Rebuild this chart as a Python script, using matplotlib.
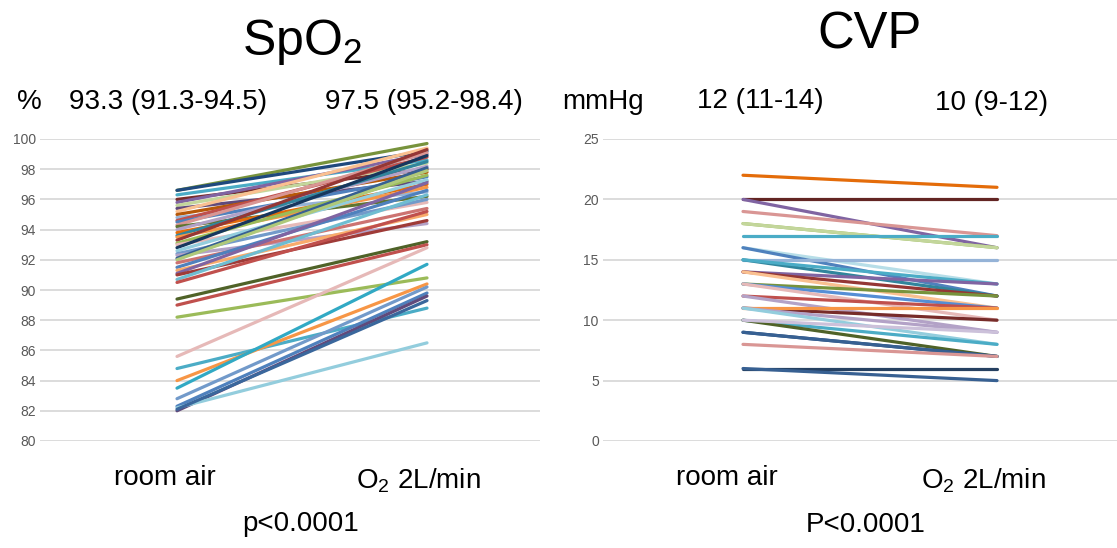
import matplotlib.pyplot as plt

plt.rcParams['font.family'] = ['Liberation Sans', 'DejaVu Sans']

# SpO2 (%) per patient: room air -> O2 2L/min
spo2_room = [96.6, 96.6, 96.3, 96.0, 95.8, 95.6, 95.4, 95.2, 95.0, 94.8, 94.6, 94.5,
             94.3, 94.2, 94.0, 93.8, 93.6, 93.5, 93.3, 93.1, 93.0, 92.8, 92.6, 92.4,
             92.3, 92.1, 92.0, 91.8, 91.5, 91.3, 91.1, 91.0, 90.7, 90.5, 89.4, 89.0,
             88.2, 85.6, 84.8, 84.0, 83.5, 82.8, 82.3, 82.0, 82.2, 82.1]
spo2_o2 = [99.7, 99.2, 98.6, 98.0, 99.0, 98.4, 97.2, 99.4, 97.8, 96.5, 98.8, 97.5,
           99.1, 96.2, 98.2, 97.0, 98.5, 96.8, 99.3, 97.6, 95.8, 98.9, 97.3, 96.0,
           94.4, 98.1, 97.9, 95.4, 96.6, 95.0, 97.1, 94.6, 96.3, 95.2, 93.2, 93.0,
           90.8, 92.8, 88.8, 90.4, 91.7, 90.2, 89.8, 89.6, 86.5, 89.3]
spo2_colors = ['#77933C', '#1F497D', '#4BACC6', '#772C2A', '#8064A2', '#C3D69B',
               '#604A7B', '#FAC090', '#B65708', '#95B3D7', '#C0504D', '#4F81BD',
               '#D99694', '#5F7530', '#B2A1C7', '#E46C0A', '#31859C', '#F79646',
               '#953735', '#9BBB59', '#E6B9B8', '#17375E', '#93CDDD', '#729ACA',
               '#B3A2C7', '#376092', '#AFC97A', '#CD7371', '#4F81BD', '#F9AB6B',
               '#8064A2', '#9F3B38', '#6FBDD1', '#C0504D', '#4F6228', '#C0504D',
               '#9BBB59', '#E6B9B8', '#4BACC6', '#F79646', '#31A9C4', '#729ACA',
               '#4F81BD', '#604A7B', '#93CDDD', '#3A679C']

# CVP (mmHg) per patient: room air -> O2 2L/min
cvp_room = [22, 20, 20, 19, 18, 18, 17, 16, 16, 15, 15, 15, 14, 14, 14, 13, 13, 13,
            12, 12, 11, 11, 11, 11, 10, 10, 10, 9, 9, 8, 6, 6]
cvp_o2 = [21, 20, 16, 17, 16, 16, 17, 13, 12, 15, 12, 13, 13, 12, 11, 12, 11, 10,
          11, 9, 10, 11, 9, 8, 8, 7, 9, 7, 7, 7, 6, 5]
cvp_colors = ['#E46C0A', '#632523', '#8064A2', '#D99694', '#9BBB59', '#C3D69B',
              '#4BACC6', '#B7DEE8', '#4F81BD', '#95B3D7', '#31859C', '#4BACC6',
              '#8064A2', '#953735', '#FAC090', '#77933C', '#558ED5', '#E6B9B8',
              '#C0504D', '#B3A2C7', '#772C2A', '#F79646', '#B3A2C7', '#93CDDD',
              '#4BACC6', '#4F6228', '#CCC1DA', '#1F497D', '#376092', '#D99694',
              '#254061', '#376092']

W, H = 1117, 548
fig = plt.figure(figsize=(W / 100, H / 100), dpi=100)


def panel(left_px, right_px, x0_px, x1_px, room, o2, colors, ylim, yticks):
    ax = fig.add_axes([left_px / W, (H - 441) / H, (right_px - left_px) / W, (441 - 139) / H])
    span = x1_px - x0_px
    for a, b, c in zip(room, o2, colors):
        ax.plot([0, 1], [a, b], color=c, lw=2.3, solid_capstyle='round', clip_on=False)
    ax.set_xlim(-(x0_px - left_px) / span, 1 + (right_px - x1_px) / span)
    ax.set_ylim(*ylim)
    ax.set_yticks(yticks)
    ax.set_xticks([])
    ax.grid(axis='y', color='#D9D9D9', lw=1.3)
    ax.set_axisbelow(True)
    for s in ax.spines.values():
        s.set_visible(False)
    ax.tick_params(axis='y', length=0, labelsize=10, labelcolor='#595959', pad=3)
    return ax


panel(40, 540, 177, 427, spo2_room, spo2_o2, spo2_colors, (80, 100), range(80, 101, 2))
panel(603, 1117, 743, 997, cvp_room, cvp_o2, cvp_colors, (0, 25), range(0, 26, 5))


def t(x, y, s, size=20, ha='center'):
    fig.text(x / W, 1 - y / H, s, fontsize=size, ha=ha, va='center')


t(302, 42, r'SpO$_\mathregular{2}$', size=36)
t(869, 35, 'CVP', size=36.5)
t(17, 102, '%', ha='left')
t(168, 102, '93.3 (91.3-94.5)')
t(424, 102, '97.5 (95.2-98.4)')
t(562, 102, 'mmHg', ha='left')
t(760, 101, '12 (11-14)')
t(992, 103, '10 (9-12)')
t(165, 478, 'room air')
t(418, 481, r'O$_\mathregular{2}$ 2L/min')
t(301, 524, 'p<0.0001')
t(727, 478, 'room air')
t(983, 481, r'O$_\mathregular{2}$ 2L/min')
t(866, 525, 'P<0.0001')

fig.savefig('out.png', dpi=100)
